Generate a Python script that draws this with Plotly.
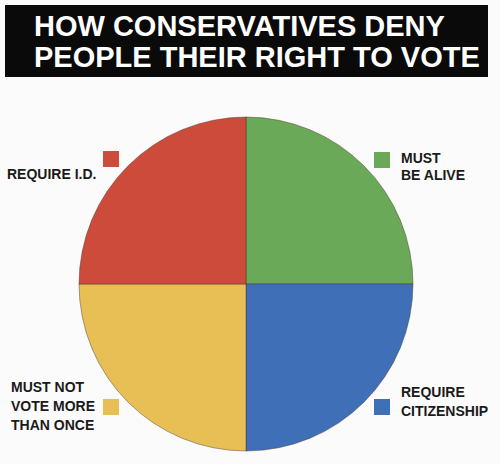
import plotly.graph_objects as go

# ---- data ----
categories = ["MUST<br>BE ALIVE", "REQUIRE<br>CITIZENSHIP", "MUST NOT<br>VOTE MORE<br>THAN ONCE", "REQUIRE I.D."]
values = [25, 25, 25, 25]
colors = ["#69a957", "#3f6fb6", "#e8bf55", "#cc4b3b"]
title_lines = ["HOW CONSERVATIVES DENY", "PEOPLE THEIR RIGHT TO VOTE"]

W, H = 500, 464
FONT = "Liberation Sans, Arial, sans-serif"

def px(x):
    return x / W

def py(y):
    return 1 - y / H

cx, cy, r = 246, 284, 167

fig = go.Figure(go.Pie(
    labels=categories,
    values=values,
    sort=False,
    direction="clockwise",
    rotation=0,
    marker=dict(colors=colors, line=dict(color="rgba(70,50,40,0.45)", width=1)),
    textinfo="none",
    hoverinfo="label",
    showlegend=False,
    domain=dict(x=[px(cx - r), px(cx + r)], y=[py(cy + r), py(cy - r)]),
))

shapes = [dict(type="rect", xref="paper", yref="paper",
               x0=px(5), x1=px(488), y0=py(77), y1=py(5),
               fillcolor="#0a0a0a", line=dict(width=0), layer="below")]
annotations = []

for line, yc in zip(title_lines, [26, 57]):
    annotations.append(dict(text="<b>" + line + "</b>", x=px(32), y=py(yc), xref="paper", yref="paper",
                            xanchor="left", yanchor="middle", showarrow=False,
                            font=dict(family=FONT, size=29, color="white")))

# label layout: (square x0, square y0, text anchor x, xanchor, line centre ys)
label_layout = [
    (374, 152, 399, "left", [157.5, 175]),
    (374, 399, 399, "left", [392, 410.5]),
    (103, 399, 9, "left", [386.5, 405.5, 424.5]),
    (103, 151, 98, "right", [174]),
]
sq = 16
for cat, col, (sx, sy, tx, xa, ys) in zip(categories, colors, label_layout):
    shapes.append(dict(type="rect", xref="paper", yref="paper",
                       x0=px(sx), x1=px(sx + sq), y0=py(sy + sq), y1=py(sy),
                       fillcolor=col, line=dict(width=0)))
    for line, yc in zip(cat.split("<br>"), ys):
        annotations.append(dict(text="<b>" + line + "</b>", x=px(tx), y=py(yc), xref="paper", yref="paper",
                                xanchor=xa, yanchor="middle", showarrow=False,
                                font=dict(family=FONT, size=14, color="#1a1a1a")))

fig.update_layout(
    width=W, height=H,
    margin=dict(l=0, r=0, t=0, b=0),
    paper_bgcolor="#fbfbfb",
    plot_bgcolor="#fbfbfb",
    shapes=shapes,
    annotations=annotations,
)

fig.write_html("out.html", config={"displayModeBar": False},
               post_script="document.body.style.margin='0';document.body.style.padding='0';")
